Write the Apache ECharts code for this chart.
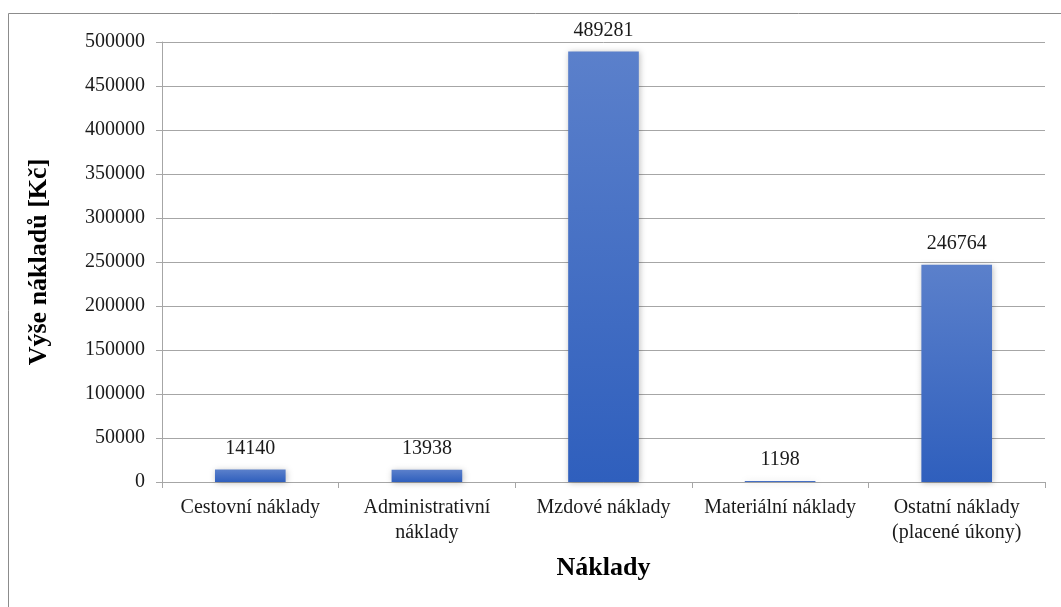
<!DOCTYPE html>
<html>
<head>
<meta charset="utf-8">
<script src="https://cdn.jsdelivr.net/npm/echarts@6/dist/echarts.min.js"></script>
<style>
  html, body, #main { width: 100%; height: 100%; margin: 0; background: #fff; }
</style>
</head>
<body>
<div id="main"></div>
<script>
var categories = ['Cestovní náklady', 'Administrativní\nnáklady', 'Mzdové náklady', 'Materiální náklady', 'Ostatní náklady\n(placené úkony)'];
var values = [14140, 13938, 489281, 1198, 246764];
var yTicks = { min: 0, max: 500000, interval: 50000 };

var font = '"Liberation Serif", "Times New Roman", serif';
var chart = echarts.init(document.getElementById('main'));

chart.setOption({
  backgroundColor: '#fff',
  animation: false,
  graphic: [{
    type: 'rect',
    shape: { x: 8.5, y: 13.5, width: 1200, height: 800 },
    style: { fill: 'none', stroke: '#8c8c8c', lineWidth: 1 },
    silent: true
  }],
  grid: { left: 162, right: 16, top: 42, bottom: 125 },
  xAxis: {
    type: 'category',
    data: categories,
    name: 'Náklady',
    nameLocation: 'middle',
    nameGap: 73,
    nameTextStyle: { fontFamily: font, fontSize: 26, fontWeight: 'bold', color: '#000' },
    axisLine: { lineStyle: { color: '#a6a6a6' } },
    axisTick: { show: true, length: 6, lineStyle: { color: '#a6a6a6' } },
    axisLabel: { fontFamily: font, fontSize: 20, color: '#1a1a1a', margin: 13, lineHeight: 25, interval: 0 }
  },
  yAxis: {
    type: 'value',
    min: yTicks.min,
    max: yTicks.max,
    interval: yTicks.interval,
    name: 'Výše nákladů [Kč]',
    nameLocation: 'middle',
    nameGap: 110,
    nameTextStyle: { fontFamily: font, fontSize: 26, fontWeight: 'bold', color: '#000' },
    axisLine: { show: true, lineStyle: { color: '#a6a6a6' } },
    axisTick: { show: true, length: 6, lineStyle: { color: '#a6a6a6' } },
    axisLabel: { fontFamily: font, fontSize: 20, color: '#1a1a1a', margin: 17, formatter: function (v) { return String(v); } },
    splitLine: { lineStyle: { color: '#a6a6a6' } }
  },
  series: [{
    type: 'bar',
    data: values,
    barWidth: '40%',
    itemStyle: {
      color: new echarts.graphic.LinearGradient(0, 0, 0, 1, [
        { offset: 0, color: '#5b80cb' },
        { offset: 1, color: '#2f5fbd' }
      ]),
      shadowColor: 'rgba(0,0,0,0.25)',
      shadowBlur: 6,
      shadowOffsetX: 1,
      shadowOffsetY: 1
    },
    label: {
      show: true,
      position: 'top',
      distance: 11,
      fontFamily: font,
      fontSize: 20,
      color: '#1a1a1a'
    }
  }]
});
</script>
</body>
</html>
